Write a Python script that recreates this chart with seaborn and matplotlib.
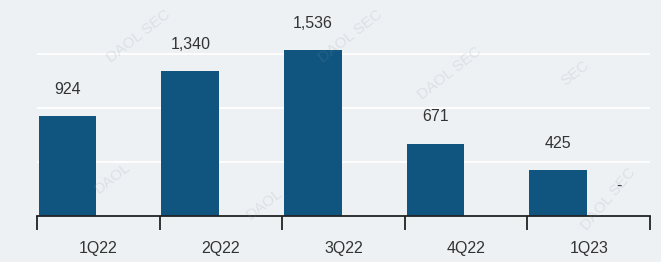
import pandas as pd
import matplotlib
matplotlib.use("Agg")
import matplotlib.pyplot as plt
import seaborn as sns
from matplotlib.ticker import FixedLocator

quarters = ["1Q22", "2Q22", "3Q22", "4Q22", "1Q23"]
main_values = [924, 1340, 1536, 671, 425]
other_values = [0, 0, 0, 0, 0]
main_labels = ["924", "1,340", "1,536", "671", "425"]
other_labels = ["", "", "", "", "-"]

bg = "#eef1f4"
bar_color = "#0f557f"
text_color = "#333333"

df = pd.DataFrame({
    "quarter": quarters * 2,
    "value": main_values + other_values,
    "series": ["main"] * 5 + ["other"] * 5,
})

sns.set_theme(style="white")
plt.rcParams["font.family"] = ["Liberation Sans", "DejaVu Sans"]

fig = plt.figure(figsize=(6.61, 2.62), dpi=100, facecolor=bg)
ax = fig.add_axes([37 / 661, 1 - 216 / 262, 613 / 661, 216 / 262])
ax.set_facecolor(bg)

sns.barplot(data=df, x="quarter", y="value", hue="series",
            palette=[bar_color, bar_color], width=1.0, gap=0.06,
            dodge=True, legend=False, ax=ax, saturation=1, linewidth=0)

ax.set_ylim(0, 2000)
ax.set_xlim(-0.5, 4.5)
ax.set_yticks([500, 1000, 1500])
ax.yaxis.grid(True, color="white", linewidth=1.3)
ax.set_axisbelow(True)
ax.tick_params(axis="y", left=False, labelleft=False)

ax.bar_label(ax.containers[0], labels=main_labels, padding=14,
             fontsize=11.5, color=text_color)
ax.bar_label(ax.containers[1], labels=other_labels, padding=16,
             fontsize=11.5, color=text_color)

# ticks between groups, labels centered
ax.xaxis.set_major_locator(FixedLocator([-0.5, 0.5, 1.5, 2.5, 3.5, 4.5]))
ax.xaxis.set_minor_locator(FixedLocator(range(len(quarters))))
ax.set_xticklabels([""] * 6)
ax.set_xticklabels(quarters, minor=True)
ax.tick_params(axis="x", which="major", bottom=True, length=10, width=1.3,
               color="#222222", direction="out")
ax.tick_params(axis="x", which="minor", bottom=False, length=0, pad=18,
               labelsize=11.5, labelcolor=text_color)
ax.set_xlabel("")
ax.set_ylabel("")

for side in ["top", "right", "left"]:
    ax.spines[side].set_visible(False)
ax.spines["bottom"].set_color("#222222")
ax.spines["bottom"].set_linewidth(1.3)

# faint watermarks
marks = [(0.21, 0.86, "DAOL SEC", 38), (0.53, 0.86, "DAOL SEC", 38),
         (0.68, 0.72, "DAOL SEC", 38), (0.87, 0.72, "SEC", 38),
         (0.17, 0.32, "DAOL", 38), (0.40, 0.22, "DAOL", 38),
         (0.92, 0.24, "DAOL SEC", 50)]
for x, y, t, r in marks:
    fig.text(x, y, t, rotation=r, color="#8a96a3", alpha=0.18, fontsize=11,
             ha="center", va="center", zorder=0)

fig.savefig("out.png", dpi=100, facecolor=bg)
